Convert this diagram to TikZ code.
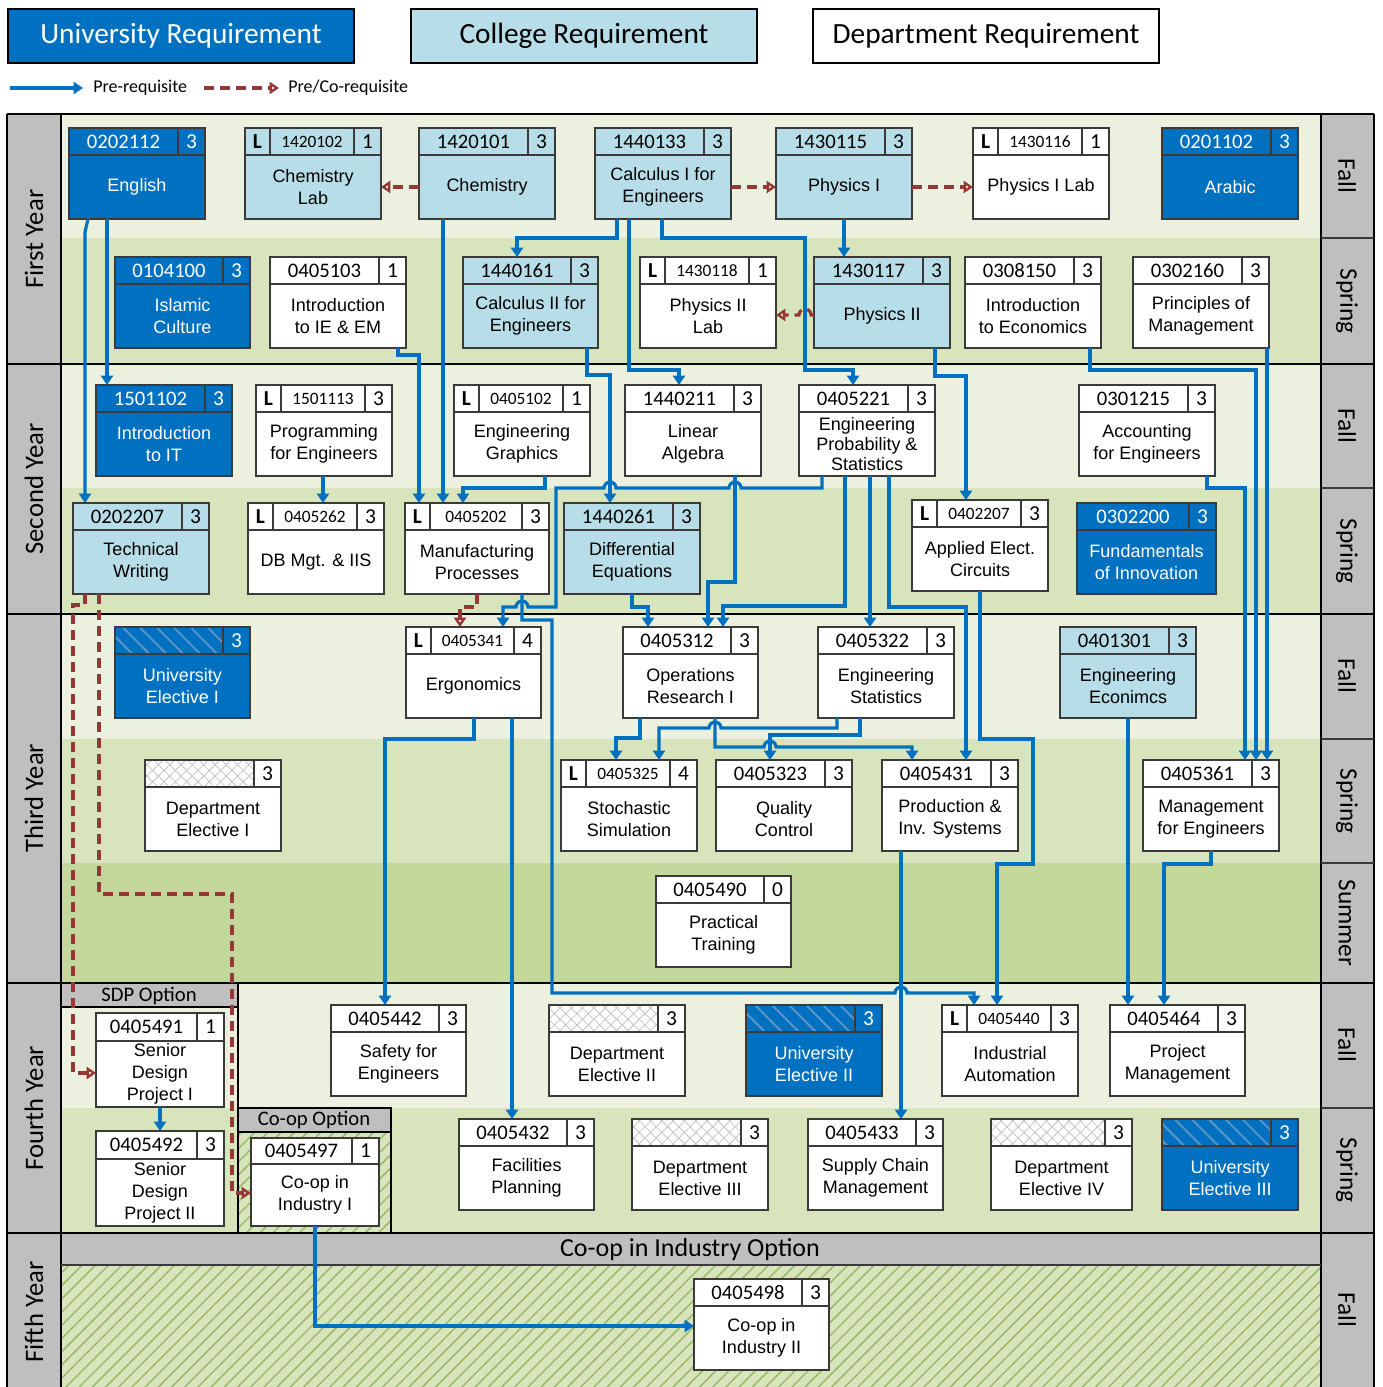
\documentclass[tikz,border=0pt]{standalone}
\usepackage{fontspec}
\setmainfont{Liberation Sans}
\newfontfamily\carl{Carlito}
\usetikzlibrary{arrows.meta,patterns.meta,calc}
\definecolor{uniblue}{HTML}{0070C0}
\definecolor{colblue}{HTML}{B7DEE8}
\definecolor{fallg}{HTML}{EBF1DE}
\definecolor{springg}{HTML}{D8E4BC}
\definecolor{summerg}{HTML}{C4D79B}
\definecolor{gry}{HTML}{BFBFBF}
\definecolor{redd}{HTML}{953735}
\definecolor{bord}{HTML}{3A3A3A}
\definecolor{ustripe}{RGB}{95,150,200}
\definecolor{dhatch}{RGB}{195,195,195}
\definecolor{stripeg}{RGB}{150,182,100}
\newcommand\bh{91}
\newcommand\hh{27}
\newcommand\cw{27}
\tikzset{
 box/.style={draw=bord,line width=1pt,anchor=north west,inner sep=0pt,outer sep=0pt},
 uni/.style={fill=uniblue}, col/.style={fill=colblue}, dep/.style={fill=white},
 unitxt/.style={text=white}, coltxt/.style={text=black}, deptxt/.style={text=black},
 codetxt/.style={font=\carl\fontsize{15.5}{16}\selectfont,inner sep=0pt},
 labcode/.style={font=\carl\fontsize{13}{14}\selectfont,inner sep=0pt},
 labL/.style={font=\carl\bfseries\fontsize{16}{16}\selectfont,inner sep=0pt},
 crtxt/.style={font=\carl\fontsize{16}{16}\selectfont,inner sep=0pt},
 ttl/.style={font=\fontsize{13.5}{16.5}\selectfont,align=center,inner sep=0pt},
 pre/.style={draw=uniblue,line width=2.4pt,-{Triangle[length=7pt,width=9pt]}},
 corq/.style={draw=redd,line width=2.4pt,dash pattern=on 7.5pt off 4.5pt,-{Triangle[open,length=7pt,width=9pt]}},
 yr/.style={font=\carl\fontsize{20}{20}\selectfont,rotate=90},
 sem/.style={font=\carl\fontsize{19}{19}\selectfont,rotate=-90},
 opt/.style={font=\carl\fontsize{15.5}{16}\selectfont,inner sep=0pt},
 legbox/.style={draw=black,line width=1.5pt,anchor=north west,minimum width=346*0.75pt,minimum height=54*0.75pt,font=\carl\fontsize{22}{24}\selectfont},
 legtxt/.style={font=\carl\fontsize{13.5}{14}\selectfont,anchor=west,inner sep=0pt},
 grid/.style={line width=1.6pt,black},
 hatchg/.style={fill=springg,postaction={pattern={Lines[angle=45,distance=7pt,line width=1pt]},pattern color=stripeg}},
}
% #1 name #2 type #3 x #4 y #5 w #6 kind(n/L/U/D) #7 code #8 credits #9 title
\newcommand\course[9]{%
  \pgfmathsetmacro\xa{#3}%
  \pgfmathsetmacro\ya{#4}%
  \pgfmathsetmacro\xb{#3+#5}%
  \pgfmathsetmacro\yb{#4+\bh}%
  \pgfmathsetmacro\yh{#4+\hh}%
  \pgfmathsetmacro\xc{#3+#5-\cw}%
  \pgfmathsetmacro\xl{#3+25}%
  \node[box,#2,minimum width=#5*0.75pt,minimum height=\bh*0.75pt] (#1) at (\xa,\ya) {};%
  \if U#6\fill[pattern={Lines[angle=-45,distance=9pt,line width=1.4pt]},pattern color=ustripe] (\xa,\ya) rectangle (\xc,\yh);\fi
  \if D#6\fill[pattern={Hatch[angle=45,distance=6pt,line width=0.6pt]},pattern color=dhatch] (\xa,\ya) rectangle (\xc,\yh);\fi
  \draw[bord,line width=1pt] (\xa,\yh) -- (\xb,\yh) (\xc,\ya) -- (\xc,\yh) (\xa,\ya) rectangle (\xb,\yb);%
  \if L#6%
    \draw[bord,line width=1pt] (\xl,\ya) -- (\xl,\yh);%
    \node[#2txt,labL] at ($(\xa,\ya)!0.5!(\xl,\yh)$) {L};%
    \node[#2txt,labcode] at ($(\xl,\ya)!0.5!(\xc,\yh)$) {#7};%
  \else
    \node[#2txt,codetxt] at ($(\xa,\ya)!0.5!(\xc,\yh)$) {#7};%
  \fi
  \node[#2txt,crtxt] at ($(\xc,\ya)!0.5!(\xb,\yh)$) {#8};%
  \node[#2txt,ttl] at ($(\xa,\yh)!0.5!(\xb,\yb)$) {#9};%
}
\begin{document}
\begin{tikzpicture}[x=0.75pt,y=-0.75pt]
\useasboundingbox (0,0) rectangle (1382,1387);
\fill[white] (0,0) rectangle (1382,1387);
% legend
\node[legbox,fill=uniblue,text=white] (lu) at (7,8) {University Requirement};
\node[legbox,fill=colblue] (lc) at (410,8) {College Requirement};
\node[legbox,fill=white] (ld) at (812,8) {Department Requirement};
\coordinate (la1) at (10,88); \coordinate (la2) at (83,88);
\draw[pre] (la1) -- (la2);
\node[legtxt] (lt1) at (93,88) {Pre-requisite};
\coordinate (lb1) at (204,88); \coordinate (lb2) at (279,88);
\draw[corq] (lb1) -- (lb2);
\node[legtxt] (lt2) at (288,88) {Pre/Co-requisite};
% bands
\fill[fallg] (61,114) rectangle (1321,238);
\fill[springg] (61,238) rectangle (1321,364);
\fill[fallg] (61,364) rectangle (1321,488);
\fill[springg] (61,488) rectangle (1321,614);
\fill[fallg] (61,614) rectangle (1321,739);
\fill[springg] (61,739) rectangle (1321,863);
\fill[summerg] (61,863) rectangle (1321,983);
\fill[fallg] (61,983) rectangle (1321,1108);
\fill[springg] (61,1108) rectangle (1321,1233);
\fill[gry] (61,1233) rectangle (1321,1265);
\path[hatchg] (61,1265) rectangle (1321,1387);
\fill[gry] (7,114) rectangle (61,1387);
\fill[gry] (1321,114) rectangle (1374,1387);
% options frames
\fill[gry] (61,983) rectangle (238,1007);
\fill[gry] (238,1108) rectangle (391,1132);
\path[hatchg] (238,1132) rectangle (391,1233);
\draw[grid] (61,1007) -- (238,1007) (238,983) -- (238,1233);
\draw[grid] (238,1108) -- (391,1108) -- (391,1233) (238,1132) -- (391,1132);
\node[opt] (sdpopt) at (149,996) {SDP Option};
\node[opt] (coopopt) at (314,1120) {Co-op Option};
\node[font=\carl\fontsize{19.5}{20}\selectfont,inner sep=0pt] (coopind) at (690,1250) {Co-op in Industry Option};
% grid lines
\draw[grid] (7,114) -- (1374,114);
\foreach \yy in {364,614,983,1233} \draw[grid] (7,\yy) -- (1374,\yy);
\draw[grid] (7,114) -- (7,1387) (61,114) -- (61,1387) (1321,114) -- (1321,1387) (1374,114) -- (1374,1387);
\draw[line width=1pt,bord] (61,1265) -- (1321,1265);
\foreach \yy in {238,488,739,863,1108} \draw[line width=1pt,bord] (1321,\yy) -- (1374,\yy);
% labels
\node[yr] (y1) at (34,239) {First Year};
\node[yr] (y2) at (34,489) {Second Year};
\node[yr] (y3) at (34,798) {Third Year};
\node[yr] (y4) at (34,1108) {Fourth Year};
\node[yr] (y5) at (34,1312) {Fifth Year};
\node[sem] (s1) at (1347,176) {Fall};
\node[sem] (s2) at (1347,301) {Spring};
\node[sem] (s3) at (1347,426) {Fall};
\node[sem] (s4) at (1347,551) {Spring};
\node[sem] (s5) at (1347,676) {Fall};
\node[sem] (s6) at (1347,801) {Spring};
\node[sem] (s7) at (1347,923) {Summer};
\node[sem] (s8) at (1347,1045) {Fall};
\node[sem] (s9) at (1347,1170) {Spring};
\node[sem] (s10) at (1347,1310) {Fall};
% year 1
\course{english}{uni}{69}{128}{136}{n}{0202112}{3}{English}
\course{chemlab}{col}{245}{128}{136}{L}{1420102}{1}{Chemistry\\Lab}
\course{chem}{col}{419}{128}{136}{n}{1420101}{3}{Chemistry}
\course{calc1}{col}{595}{128}{136}{n}{1440133}{3}{Calculus I for\\Engineers}
\course{phys1}{col}{776}{128}{136}{n}{1430115}{3}{Physics I}
\course{phys1lab}{dep}{973}{128}{136}{L}{1430116}{1}{Physics I Lab}
\course{arabic}{uni}{1162}{128}{136}{n}{0201102}{3}{Arabic}
\course{islamic}{uni}{115}{257}{135}{n}{0104100}{3}{Islamic\\Culture}
\course{introie}{dep}{270}{257}{136}{n}{0405103}{1}{Introduction\\to IE \& EM}
\course{calc2}{col}{463}{257}{135}{n}{1440161}{3}{Calculus II for\\Engineers}
\course{phys2lab}{dep}{640}{257}{136}{L}{1430118}{1}{Physics II\\Lab}
\course{phys2}{col}{814}{257}{136}{n}{1430117}{3}{Physics II}
\course{econ}{dep}{965}{257}{136}{n}{0308150}{3}{Introduction\\to Economics}
\course{princ}{dep}{1133}{257}{136}{n}{0302160}{3}{Principles of\\Management}
% year 2
\course{introit}{uni}{96}{385}{136}{n}{1501102}{3}{Introduction\\to IT}
\course{prog}{dep}{256}{385}{136}{L}{1501113}{3}{Programming\\for Engineers}
\course{graphics}{dep}{454}{385}{136}{L}{0405102}{1}{Engineering\\Graphics}
\course{linalg}{dep}{625}{385}{136}{n}{1440211}{3}{Linear\\Algebra}
\course{engprob}{dep}{799}{385}{136}{n}{0405221}{3}{Engineering\\[-1.5pt]Probability \&\\[-1.5pt]Statistics}
\course{acct}{dep}{1079}{385}{136}{n}{0301215}{3}{Accounting\\for Engineers}
\course{techw}{col}{73}{503}{136}{n}{0202207}{3}{Technical\\Writing}
\course{dbmgt}{dep}{248}{503}{136}{L}{0405262}{3}{DB Mgt. \& IIS}
\course{manuf}{dep}{405}{503}{144}{L}{0405202}{3}{Manufacturing\\Processes}
\course{diffeq}{col}{564}{503}{136}{n}{1440261}{3}{Differential\\Equations}
\course{appelec}{dep}{912}{500}{136}{L}{0402207}{3}{Applied Elect.\\Circuits}
\course{innov}{uni}{1077}{503}{139}{n}{0302200}{3}{Fundamentals\\of Innovation}
% year 3
\course{uel1}{uni}{115}{627}{135}{U}{}{3}{University\\Elective I}
\course{ergo}{dep}{406}{627}{135}{L}{0405341}{4}{Ergonomics}
\course{or1}{dep}{623}{627}{135}{n}{0405312}{3}{Operations\\Research I}
\course{engstat}{dep}{818}{627}{136}{n}{0405322}{3}{Engineering\\Statistics}
\course{engecon}{col}{1060}{627}{136}{n}{0401301}{3}{Engineering\\Econimcs}
\course{del1}{dep}{145}{760}{136}{D}{}{3}{Department\\Elective I}
\course{stoch}{dep}{561}{760}{136}{L}{0405325}{4}{Stochastic\\Simulation}
\course{quality}{dep}{716}{760}{136}{n}{0405323}{3}{Quality\\Control}
\course{prodinv}{dep}{882}{760}{136}{n}{0405431}{3}{Production \&\\Inv. Systems}
\course{mgmteng}{dep}{1143}{760}{136}{n}{0405361}{3}{Management\\for Engineers}
\course{practical}{dep}{656}{876}{135}{n}{0405490}{0}{Practical\\Training}
% year 4
\renewcommand\bh{94}\renewcommand\hh{28}
\course{sdp1}{dep}{96}{1013}{128}{n}{0405491}{1}{Senior\\Design\\Project I}
\renewcommand\bh{95}
\course{sdp2}{dep}{96}{1131}{128}{n}{0405492}{3}{Senior\\Design\\Project II}
\renewcommand\bh{88}\renewcommand\hh{26}
\course{coop1}{dep}{251}{1138}{128}{n}{0405497}{1}{Co-op in\\Industry I}
\renewcommand\bh{91}\renewcommand\hh{27}
\course{safety}{dep}{331}{1005}{135}{n}{0405442}{3}{Safety for\\Engineers}
\course{del2}{dep}{549}{1005}{136}{D}{}{3}{Department\\Elective II}
\course{uel2}{uni}{746}{1005}{136}{U}{}{3}{University\\Elective II}
\course{indauto}{dep}{942}{1005}{136}{L}{0405440}{3}{Industrial\\Automation}
\course{projmgmt}{dep}{1110}{1005}{135}{n}{0405464}{3}{Project\\Management}
\course{facil}{dep}{459}{1119}{135}{n}{0405432}{3}{Facilities\\Planning}
\course{del3}{dep}{632}{1119}{136}{D}{}{3}{Department\\Elective III}
\course{supply}{dep}{808}{1119}{135}{n}{0405433}{3}{Supply Chain\\Management}
\course{del4}{dep}{991}{1119}{141}{D}{}{3}{Department\\Elective IV}
\course{uel3}{uni}{1162}{1119}{136}{U}{}{3}{University\\Elective III}
% year 5
\course{coop2}{dep}{694}{1279}{135}{n}{0405498}{3}{Co-op in\\Industry II}
% prerequisites
\draw[pre] (88,0 |- english.south) -- (85,232) -- (85,0 |- techw.north);
\draw[pre] (107,0 |- english.south) -- (107,0 |- introit.north);
\draw[pre] (443,0 |- chem.south) -- (443,0 |- manuf.north);
\draw[pre] (398,0 |- introie.south) -- (398,355) -- (419,355) -- (419,0 |- manuf.north);
\draw[pre] (545,0 |- graphics.south) -- (545,488) -- (463,488) -- (463,0 |- manuf.north);
\draw[pre] (617,0 |- calc1.south) -- (617,238) -- (517,238) -- (517,0 |- calc2.north);
\draw[pre] (629,0 |- calc1.south) -- (629,370) -- (679,370) -- (679,0 |- linalg.north);
\draw[pre] (662,0 |- calc1.south) -- (662,238) -- (805,238) -- (805,370) -- (853,370) -- (853,0 |- engprob.north);
\draw[pre] (844,0 |- phys1.south) -- (844,0 |- phys2.north);
\draw[pre] (935,0 |- phys2.south) -- (935,376) -- (966,376) -- (966,0 |- appelec.north);
\draw[pre] (1090,0 |- econ.south) -- (1090,370) -- (1256,370) -- (1256,0 |- mgmteng.north);
\draw[pre] (1267,0 |- princ.south) -- (1267,0 |- mgmteng.north);
\draw[pre] (1207,0 |- acct.south) -- (1207,488) -- (1245,488) -- (1245,0 |- mgmteng.north);
\draw[pre] (587,0 |- calc2.south) -- (587,375) -- (610,375) -- (610,0 |- diffeq.north);
\draw[pre] (323,0 |- prog.south) -- (323,0 |- dbmgt.north);
\draw[pre] (822,0 |- engprob.south) -- (822,488) -- (741,488) arc[start angle=0,end angle=180,radius=4.5pt] -- (616,488) arc[start angle=0,end angle=180,radius=4.5pt] -- (556,488) -- (556,607) -- (528,607) arc[start angle=0,end angle=180,radius=4.5pt] -- (503,607) -- (503,0 |- ergo.north);
\draw[pre] (735,0 |- linalg.south) -- (735,582) -- (708,582) -- (708,0 |- or1.north);
\draw[pre] (845,0 |- engprob.south) -- (845,606) -- (723,606) -- (723,0 |- or1.north);
\draw[pre] (870,0 |- engprob.south) -- (870,0 |- engstat.north);
\draw[pre] (889,0 |- engprob.south) -- (889,607) -- (966,607) -- (966,0 |- prodinv.north);
\draw[pre] (632,0 |- diffeq.south) -- (632,607) -- (648,607) -- (648,0 |- or1.north);
\draw[pre] (980,0 |- appelec.south) -- (980,739) -- (1033,739) -- (1033,864) -- (997,864) -- (997,0 |- indauto.north);
\draw[pre] (522,0 |- manuf.south) -- (522,620) -- (552,620) -- (552,993) -- (895,993) arc[start angle=180,end angle=0,radius=4.5pt] -- (974,993) -- (974,0 |- indauto.north);
\draw[pre] (640,0 |- or1.south) -- (640,738) -- (616,738) -- (616,0 |- stoch.north);
\draw[pre] (837,0 |- engstat.south) -- (837,728) -- (721,728) arc[start angle=0,end angle=180,radius=4.5pt] -- (659,728) -- (659,0 |- stoch.north);
\draw[pre] (715,0 |- or1.south) -- (715,747) -- (764,747) arc[start angle=180,end angle=0,radius=4.5pt] -- (912,747) -- (912,0 |- prodinv.north);
\draw[pre] (860,0 |- engstat.south) -- (860,735) -- (770,735) -- (770,0 |- quality.north);
\draw[pre] (901,0 |- prodinv.south) -- (901,0 |- supply.north);
\draw[pre] (474,0 |- ergo.south) -- (474,739) -- (385,739) -- (385,0 |- safety.north);
\draw[pre] (512,0 |- ergo.south) -- (512,0 |- facil.north);
\draw[pre] (1128,0 |- engecon.south) -- (1128,0 |- projmgmt.north);
\draw[pre] (1211,0 |- mgmteng.south) -- (1211,864) -- (1164,864) -- (1164,0 |- projmgmt.north);
\draw[pre] (160,0 |- sdp1.south) -- (160,0 |- sdp2.north);
\draw[pre] (315,0 |- coop1.south) -- (315,1326) -- (coop2.west |- 0,1326);
% co-requisites
\draw[corq] (chem.west |- 0,187) -- (chemlab.east |- 0,187);
\draw[corq] (calc1.east |- 0,187) -- (phys1.west |- 0,187);
\draw[corq] (phys1.east |- 0,187) -- (phys1lab.west |- 0,187);
\draw[corq] (phys2.west |- 0,315) -- (811,315) arc[start angle=0,end angle=180,radius=4.5pt] -- (phys2lab.east |- 0,315);
\draw[corq] (477,0 |- manuf.south) -- (477,607) -- (460,607) -- (460,0 |- ergo.north);
\draw[corq] (85,0 |- techw.south) -- (85,605) -- (73,605) -- (73,1073) -- (sdp1.west |- 0,1073);
\draw[corq] (99,0 |- techw.south) -- (99,894) -- (232,894) -- (232,1193) -- (coop1.west |- 0,1193);
\end{tikzpicture}
\end{document}
